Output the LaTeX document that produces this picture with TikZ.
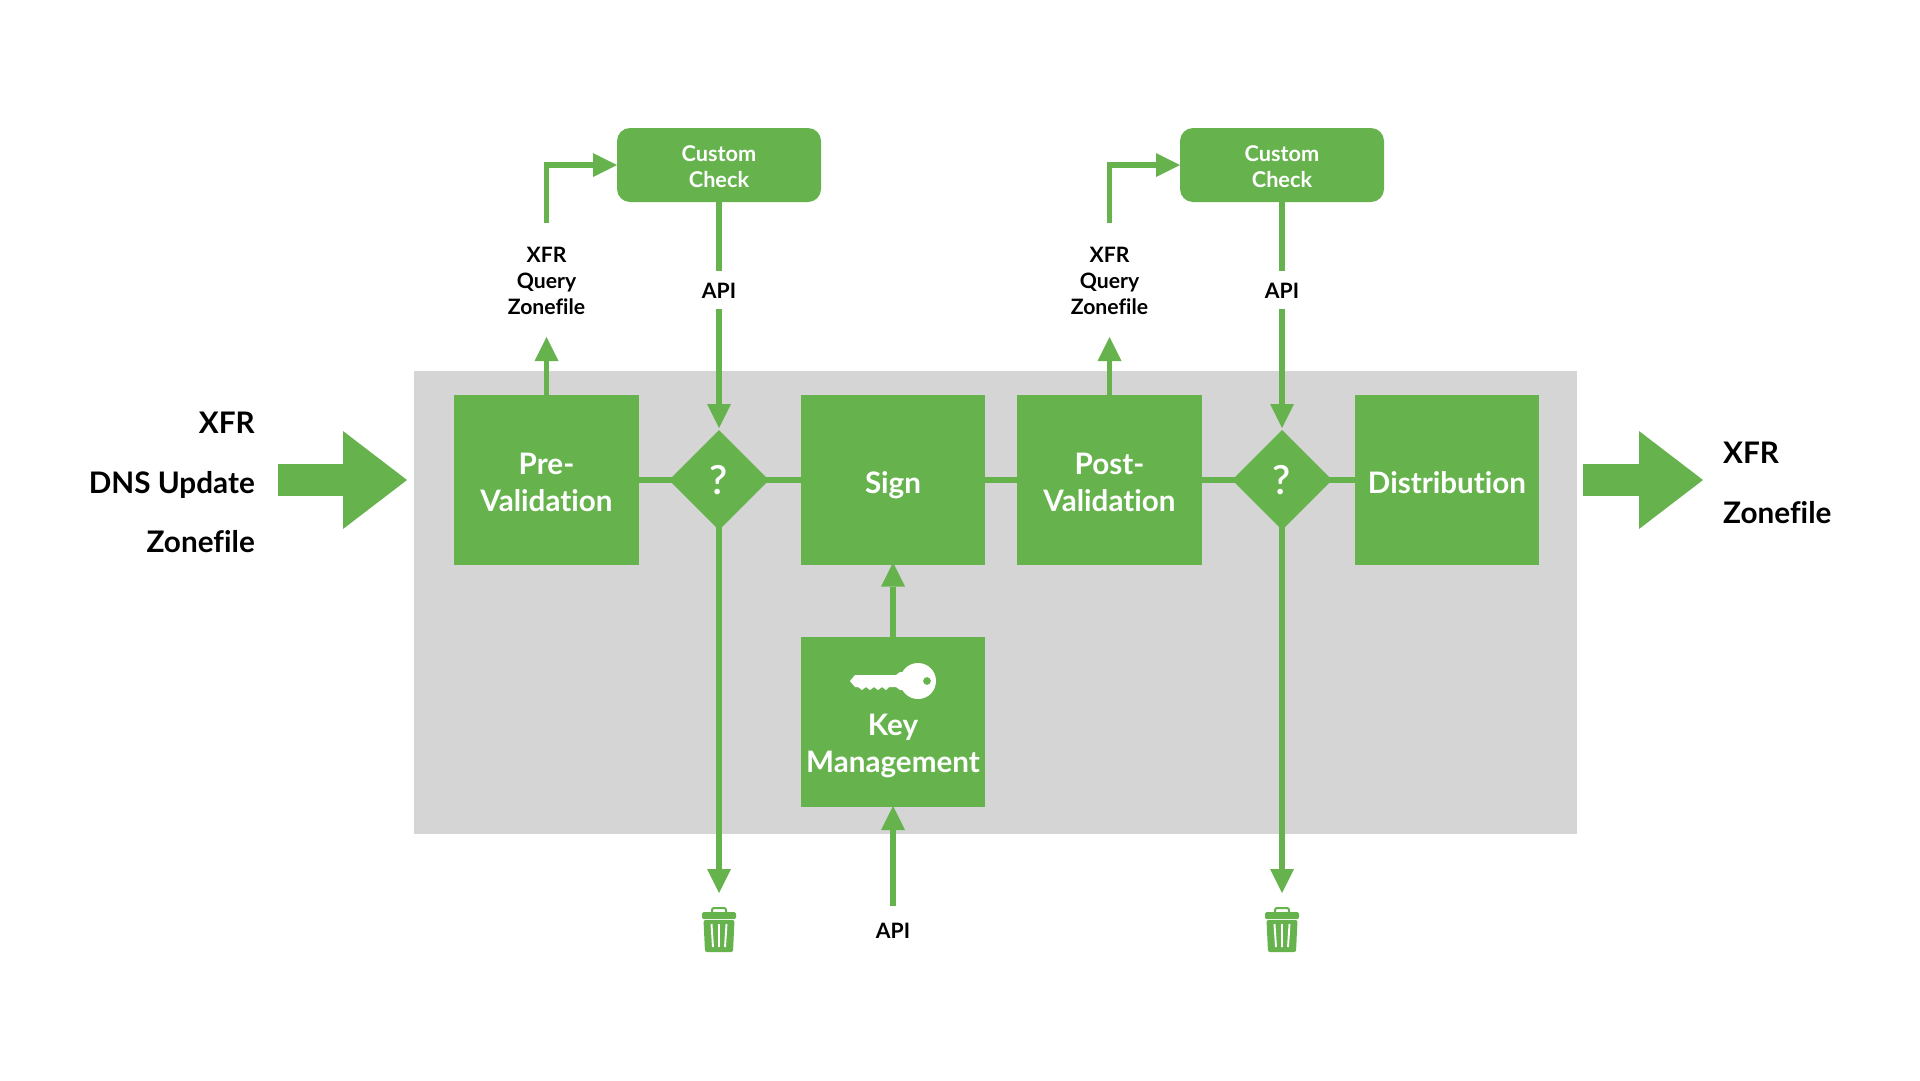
\documentclass[tikz,border=0pt]{standalone}
\usepackage{fontspec}
\setmainfont{Lato}[UprightFont=* Semibold,BoldFont=* Bold,Ligatures=NoCommon]
\usetikzlibrary{arrows.meta,shapes.geometric}
\definecolor{grn}{HTML}{66B34E}
\definecolor{gry}{HTML}{D5D5D5}
\pgfdeclarelayer{back}
\pgfdeclarelayer{lines}
\pgfsetlayers{back,lines,main}
\tikzset{
 x=1pt,y=-1pt,
 gbox/.style={fill=grn,draw=none,inner sep=0pt,outer sep=0pt,minimum width=184.5pt,minimum height=170pt,align=center,text=white,text depth=0pt,font=\fontsize{29.6}{37}\selectfont\bfseries},
 gone/.style={gbox,text height=26pt},
 gtwo/.style={gbox,text height=63.2pt},
 ccheck/.style={fill=grn,rounded corners=13pt,inner sep=0pt,outer sep=0pt,minimum width=204pt,minimum height=74pt,align=center,text=white,text height=45pt,text depth=0pt,font=\fontsize{21.7}{26}\selectfont\bfseries},
 decide/.style={diamond,fill=grn,inner sep=0pt,outer sep=0pt,minimum width=100pt,minimum height=100pt,text=white,font=\fontsize{40}{44}\selectfont},
 lbl/.style={inner sep=0pt,outer sep=0pt,align=center,font=\fontsize{21.2}{26}\selectfont\bfseries},
 apilbl/.style={lbl,minimum height=38pt,text height=17.5pt,text depth=0pt},
 big/.style={inner sep=0pt,font=\fontsize{29.7}{59}\selectfont\bfseries},
 conn/.style={draw=grn,line width=5.8pt},
 arr/.style={conn,shorten >=-2.5pt,-{Triangle[width=24pt,length=24pt,line width=0pt]}},
 bigarr/.style={draw=grn,line width=32pt,-{Triangle[width=98pt,length=64pt,line width=0pt]}},
}
\newcommand{\trashcan}[1]{%
 \begin{scope}[shift={(#1,0)}]
  \fill[grn,rounded corners=1.5pt] (-17,912) rectangle (17,919);
  \draw[grn,line width=2pt,rounded corners=2pt] (-7,912) -- (-7,908) -- (7,908) -- (7,912);
  \fill[grn,rounded corners=2pt] (-15.5,920) -- (15.5,920) -- (14,952) -- (-14,952) -- cycle;
  \draw[white,line width=1.9pt] (-7.5,924) -- (-6,947) (0,924) -- (0,947) (7.5,924) -- (6,947);
 \end{scope}}
\begin{document}
\begin{tikzpicture}
\useasboundingbox (0,0) rectangle (1920,1080);
\begin{pgfonlayer}{back}
\fill[white] (0,0) rectangle (1920,1080);
\fill[gry] (414,371) rectangle (1577,834);
\end{pgfonlayer}
% flow row boxes
\node[gtwo] (pre) at (546.5,480) {Pre-\\Validation};
\node[decide] (d1) at (719,480) {?};
\node[gone] (sign) at (893,480) {Sign};
\node[gtwo] (post) at (1109.5,480) {Post-\\Validation};
\node[decide] (d2) at (1282,480) {?};
\node[gone] (dist) at (1447,480) {Distribution};
\node[gtwo,text height=26pt] (key) at (893,722) {};
\node[text=white,inner sep=0pt,align=center,font=\fontsize{29.6}{37}\selectfont\bfseries] (keytxt) at (893,746) {Key\\Management};
% key icon
\fill[white,even odd rule] (918,681) circle (18) (927,681) circle (4);
\fill[white] (900,672) -- (905,672) -- (905,690) -- (900,690) -- (896,687) -- (889,687) -- (886,690) -- (882,687) -- (878,690) -- (874,687) -- (870,690) -- (866,687) -- (862,690) -- (858,687) -- (855,687) -- (850,681) -- (855,675) -- (896,675) -- cycle;
% custom checks
\node[ccheck] (c1) at (719,165) {Custom\\Check};
\node[ccheck] (c2) at (1282,165) {Custom\\Check};
% labels
\node[lbl,minimum height=116pt] (x1) at (546.5,281) {XFR\\Query\\Zonefile};
\node[lbl,minimum height=116pt] (x2) at (1109.5,281) {XFR\\Query\\Zonefile};
\node[apilbl] (a1) at (719,290) {API};
\node[apilbl] (a2) at (1282,290) {API};
\node[lbl,minimum height=50pt] (a3) at (893,931) {API};
% connectors
\begin{pgfonlayer}{lines}
\draw[conn] (pre) -- (d1.center) (d1.center) -- (sign) (sign) -- (post) (post) -- (d2.center) (d2.center) -- (dist);
\draw[arr,shorten >=-2pt] (pre.north) -- (x1.south);
\draw[arr,shorten >=-2pt] (post.north) -- (x2.south);
\draw[arr,shorten >=0pt] (x1.north) |- (c1.west);
\draw[arr,shorten >=0pt] (x2.north) |- (c2.west);
\draw[conn] (c1.south) -- (a1.north);
\draw[conn] (c2.south) -- (a2.north);
\draw[arr,shorten >=2pt] (a1.south) -- (d1.north);
\draw[arr,shorten >=2pt] (a2.south) -- (d2.north);
\coordinate (t1) at (719,893);
\coordinate (t2) at (1282,893);
\draw[arr,shorten >=0pt] (d1.center) -- (t1);
\draw[arr,shorten >=0pt] (d2.center) -- (t2);
\draw[arr] (key.north) -- (sign.south);
\draw[arr,shorten >=-1pt] (a3.north) -- (key.south);
\coordinate (la) at (278,480); \coordinate (lb) at (407,480);
\coordinate (ra) at (1583,480); \coordinate (rb) at (1703,480);
\draw[bigarr] (la) -- (lb);
\draw[bigarr] (ra) -- (rb);
\end{pgfonlayer}
\node[big,anchor=base east] (i1) at (255,433) {XFR};
\node[big,anchor=base east] (i2) at (255,493) {DNS Update};
\node[big,anchor=base east] (i3) at (255,552) {Zonefile};
\node[big,anchor=base west] (o1) at (1723,463.6) {XFR};
\node[big,anchor=base west] (o2) at (1723,523) {Zonefile};
\trashcan{719}
\trashcan{1282}
\end{tikzpicture}
\end{document}
